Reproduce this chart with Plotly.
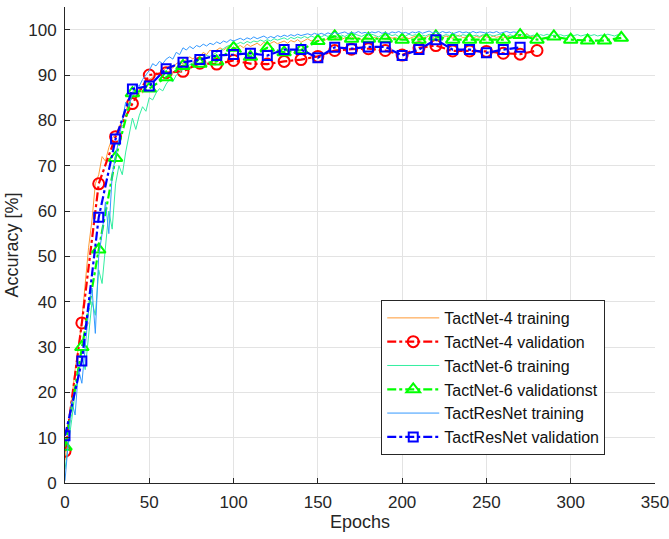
import plotly.graph_objects as go

# ---------------- data ----------------
val_epochs_4 = list(range(0, 281, 10))
val_acc_4 = [7.0, 35.3, 66.0, 76.4, 83.7, 90.0, 90.5, 90.8, 92.6, 92.4, 93.2, 92.5, 92.4, 93.0, 93.4,
             94.1, 95.4, 95.7, 95.8, 95.4, 94.4, 96.0, 96.5, 95.3, 95.3, 95.2, 94.8, 94.6, 95.4]

val_epochs_6 = list(range(0, 331, 10))
val_acc_6 = [8.0, 30.0, 51.5, 71.7, 86.0, 87.0, 89.5, 92.0, 92.5, 93.0, 96.0, 94.0, 96.0, 95.0, 95.5,
             97.5, 98.5, 98.0, 98.0, 98.0, 97.8, 97.8, 98.5, 97.8, 97.8, 97.8, 97.8, 98.8, 97.8, 98.5,
             97.8, 97.6, 97.6, 98.2]

val_epochs_res = list(range(0, 271, 10))
val_acc_res = [10.4, 26.9, 58.6, 75.9, 86.9, 87.6, 91.4, 92.8, 93.4, 94.3, 94.5, 94.8, 94.3, 95.6, 95.6,
               93.8, 96.1, 95.8, 96.2, 96.2, 94.3, 95.6, 97.8, 95.6, 95.6, 94.9, 95.6, 96.1]

train_epochs_4 = list(range(0, 281, 2))
train_acc_4 = [5, 12, 19, 25, 30, 36, 44, 52, 58, 66, 68, 72, 71, 74, 76, 77, 78.5, 80, 82, 84, 85, 86.5, 87, 86, 88,
               89, 89.5, 90.5, 90, 91, 91.5,
               92, 91.5, 92.5, 93, 92.5, 93.5, 94, 93.5, 94.5, 94, 95, 94.5, 95.5, 95, 95.5, 96, 95.5, 96, 96.5, 95.8,
               96.2, 96.5, 96, 96.8, 96.3, 96.7, 97, 96.5, 97.2, 96.8, 97, 97.4, 96.9, 97.2, 97.5, 97, 97.6, 97.3,
               97.8, 97.2, 97.6, 98, 97.5, 97.8, 97.4,
               97.9, 97.6, 98.1, 97.7, 98, 98.3, 97.8, 98.2, 97.9, 98.4, 98, 98.2, 97.8, 98.3, 98.1, 97.9, 98.4, 98,
               98.2, 97.9, 98.5, 98.1, 98.3, 97.9, 98.2,
               98.4, 98, 98.3, 98.6, 98.1, 98.4, 98.2, 98.7, 98.3, 98, 98.5, 98.2, 98.6, 98.3, 98.1, 98.5, 98.8, 98.2,
               98.4, 98.6, 98.1, 98.5, 98.3, 98.7, 98.4,
               98.2, 98.6, 98.3, 98.5, 98.1, 98.6, 98.4, 98.2, 98.7, 98.3, 98.5, 99.2, 98.4, 98.6, 98.3]

train_epochs_6 = list(range(0, 331, 2))
train_acc_6 = [3, 8, 14, 20, 24, 28, 25, 33, 40, 37, 47, 44, 52, 60, 56, 66, 70, 68, 73, 77, 80.5, 78, 81, 83, 82,
               85, 84.5, 86, 87, 86.5, 88,
               89, 88.5, 90, 90.5, 91.2, 91.8, 92.3, 92.8, 93.2, 93.5, 94, 94.3, 94.1, 94.6, 95, 95.4, 95.8, 96.3,
               96.6, 97,
               96.8, 97.2, 96.9, 97.4, 97.1, 97.5, 97.3, 97.7, 97.4, 97.8, 97.5, 98, 97.7, 97.9, 98.2, 97.8, 98.3, 98,
               98.4, 98.1, 98.5, 98.2, 98.6, 98.3, 98.7,
               98.4, 98.8, 98.5, 98.9, 98.6, 98.3, 98.8, 98.5, 98.9, 98.6, 99, 98.7, 98.5, 98.9, 98.6, 99, 98.7, 98.4,
               98.8, 98.6, 99, 98.7, 98.9, 98.5, 98.8,
               98.6, 99, 98.7, 98.9, 98.5, 98.8, 98.6, 99, 98.7, 98.4, 98.8, 98.6, 98.9, 98.7, 99.1, 98.8, 98.5, 98.9,
               98.7, 99, 98.6, 98.8, 98.5, 98.9, 98.7,
               98.9, 98.6, 98.8, 99, 98.7, 98.5, 98.9, 98.6, 98.8, 99, 98.7, 98.9, 98.6, 98.8, 98.5, 98.9, 98.7, 99,
               98.6, 98.8, 98.7, 98.9, 98.6, 98.8, 98.9,
               98.7, 98.9, 98.6, 98.8, 99, 98.7, 98.9, 98.6, 98.8, 98.7, 99, 98.8, 98.6, 98.9, 98.8]

train_epochs_res = list(range(0, 269, 2))
train_acc_res = [0.5, 10, 18, 15, 25, 22, 30, 38, 43, 33, 50, 55, 62, 55, 68, 72, 76, 80, 84, 83, 86, 88, 87.5, 89,
                 90, 91, 92.5, 92, 93, 92.5, 93.5,
                 94, 93.5, 95, 94.5, 96, 95.5, 96.3, 95.8, 96.5, 96.2, 96.8, 96.4, 97, 96.7, 97.3, 96.9, 97.5, 97.2,
                 97.8, 97.5,
                 97.8, 98.1, 97.7, 98.2, 97.9, 98.4, 98, 98.3, 98.6, 98.1, 98.5, 98.2, 98.7, 98.4, 98.8, 98.5, 98.9,
                 98.6, 99, 98.7, 98.9, 99.1, 98.8, 99.2, 98.9,
                 99.2, 98.9, 99.3, 99, 99.4, 99.1, 99.3, 99.5, 99.1, 99.4, 99.2, 99.6, 99.2, 99.4, 99.1, 99.5, 99.3,
                 99.6, 99.2, 99.4, 99.1, 99.5, 99.3, 99.6, 99.2,
                 99.4, 99.1, 99.5, 99.3, 99.6, 99.2, 99.4, 99.7, 99.3, 99.5, 99.2, 99.6, 99.3, 99.5, 99.1, 99.4, 99.6,
                 99.3, 99.5, 99.2, 99.6, 99.3, 99.5, 99.4, 99.2,
                 99.5, 99.3, 99.6, 99.2, 99.4, 99.6, 99.3, 99.5, 99.4]

x_ticks = [0, 50, 100, 150, 200, 250, 300, 350]
y_ticks = [0, 10, 20, 30, 40, 50, 60, 70, 80, 90, 100]

# ---------------- figure ----------------
FONT = "Liberation Sans, Arial, sans-serif"
fig = go.Figure()

fig.add_trace(go.Scatter(x=train_epochs_4, y=train_acc_4, mode="lines", name="TactNet-4 training",
                         line=dict(color="#FF9933", width=1)))
fig.add_trace(go.Scatter(x=val_epochs_4, y=val_acc_4, mode="lines+markers", name="TactNet-4 validation",
                         line=dict(color="#FF0000", width=2.2, dash="dashdot"),
                         marker=dict(symbol="circle-open", size=11, color="#FF0000", line=dict(width=2))))
fig.add_trace(go.Scatter(x=train_epochs_6, y=train_acc_6, mode="lines", name="TactNet-6 training",
                         line=dict(color="#33EEA0", width=1)))
fig.add_trace(go.Scatter(x=val_epochs_6, y=val_acc_6, mode="lines+markers", name="TactNet-6 validationst",
                         line=dict(color="#00FF00", width=2.2, dash="dashdot"),
                         marker=dict(symbol="triangle-up-open", size=12, color="#00FF00", line=dict(width=2))))
fig.add_trace(go.Scatter(x=train_epochs_res, y=train_acc_res, mode="lines", name="TactResNet training",
                         line=dict(color="#3399FF", width=1)))
fig.add_trace(go.Scatter(x=val_epochs_res, y=val_acc_res, mode="lines+markers", name="TactResNet validation",
                         line=dict(color="#0000FF", width=2.2, dash="dashdot"),
                         marker=dict(symbol="square-open", size=9, color="#0000FF", line=dict(width=2))))

axis_common = dict(showline=True, linecolor="#262626", linewidth=1, ticks="inside", ticklen=5,
                   tickcolor="#262626", showgrid=True, gridcolor="#E3E3E3", gridwidth=1, zeroline=False,
                   mirror=False, automargin=False, ticklabelstandoff=4, ticklabeloverflow="allow",
                   tickfont=dict(family=FONT, size=17, color="#262626"))

fig.update_layout(
    width=669, height=539,
    margin=dict(l=65, r=14, t=7, b=56),
    paper_bgcolor="white", plot_bgcolor="white",
    font=dict(family=FONT, color="#262626"),
    xaxis=dict(range=[0, 350], tickvals=x_ticks, title=dict(text="Epochs", font=dict(size=18), standoff=2),
               **axis_common),
    yaxis=dict(range=[0, 105], tickvals=y_ticks, title=dict(text="Accuracy [%]", font=dict(size=18), standoff=4),
               **axis_common),
    legend=dict(x=0.536, y=0.3845, xanchor="left", yanchor="top", bgcolor="white",
                bordercolor="#262626", borderwidth=1, font=dict(family=FONT, size=16, color="#111111"),
                itemwidth=52, tracegroupgap=0),
    showlegend=True,
)

fig.write_html("out.html")
